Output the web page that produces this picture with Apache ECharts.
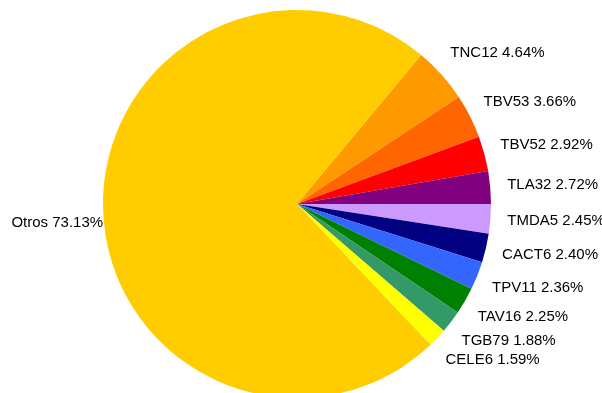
<!DOCTYPE html>
<html>
<head>
<meta charset="utf-8">
<script src="https://cdn.jsdelivr.net/npm/echarts@6/dist/echarts.min.js"></script>
<style>
  html, body { margin: 0; padding: 0; background: #fff; }
  #chart { width: 602px; height: 393px; }
</style>
</head>
<body>
<div id="chart"></div>
<script>
// sector names and shares (%), clockwise from the upper right
var names = ['TNC12', 'TBV53', 'TBV52', 'TLA32', 'TMDA5', 'CACT6', 'TPV11', 'TAV16', 'TGB79', 'CELE6', 'Otros'];
var shares = [4.64, 3.66, 2.92, 2.72, 2.45, 2.40, 2.36, 2.25, 1.88, 1.59, 73.13];
var colors = ['#FF9900', '#FF6600', '#FF0000', '#800080', '#CC99FF', '#000080', '#3366FF', '#008000', '#339966', '#FFFF00', '#FFCC00'];

var chart = echarts.init(document.getElementById('chart'));

var data = names.map(function (n, i) {
  return { name: n, value: shares[i], itemStyle: { color: colors[i] } };
});

chart.setOption({
  animation: false,
  series: [{
    type: 'pie',
    center: [297, 204],
    radius: 194,
    startAngle: 50.2,
    clockwise: true,
    avoidLabelOverlap: false,
    data: data,
    label: {
      show: true,
      position: 'outside',
      color: '#000',
      fontFamily: 'Liberation Sans, Arial, sans-serif',
      fontSize: 15,
      formatter: function (p) { return p.name + ' ' + p.value.toFixed(2) + '%'; }
    },
    labelLine: { show: false, length: 32, length2: 0 },
    // pull labels in towards the pie, like the spreadsheet did
    labelLayout: function (p) {
      if (p.dataIndex === names.length - 1) return { dx: 37, dy: 12 };
      return { dx: -20 };
    },
    emphasis: { disabled: true }
  }]
});
</script>
</body>
</html>
